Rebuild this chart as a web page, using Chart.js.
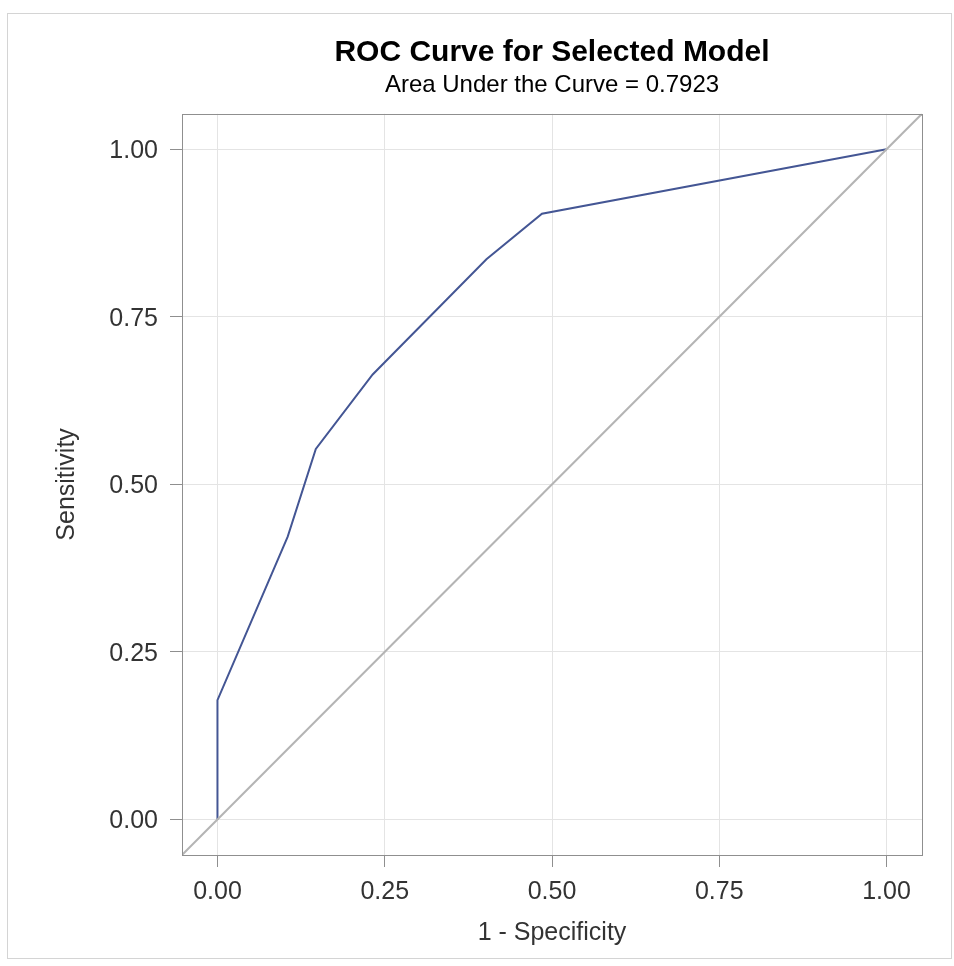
<!DOCTYPE html>
<html>
<head>
<meta charset="utf-8">
<script src="https://cdn.jsdelivr.net/npm/chart.js@4"></script>
<style>
  body { margin: 0; background: #fff; }
  canvas { display: block; }
</style>
</head>
<body>
<canvas id="roc-chart" width="954" height="966"></canvas>
<script>
document.addEventListener("DOMContentLoaded", function() {
    // ROC curve
    const falsePosRate = [0, 0, 0.105, 0.147, 0.232, 0.402, 0.485, 1];
    const truePosRate = [0, 0.178, 0.422, 0.553, 0.664, 0.836, 0.904, 1];
    const tickValues = [0, 0.25, 0.5, 0.75, 1];
    const axisMin = -0.053;
    const axisMax = 1.053;
    const aucValue = 0.7923;

    const font = "'Liberation Sans', Arial, sans-serif";

    const rocPoints = falsePosRate.map((x, i) => ({ x: x, y: truePosRate[i] }));
    const diagonal = [{ x: axisMin, y: axisMin }, { x: axisMax, y: axisMax }];

    // frame around the whole graph and round the plot area
    const frames = {
        id: 'frames',
        afterDraw(chart) {
            const c = chart.ctx;
            const a = chart.chartArea;
            c.save();
            c.strokeStyle = '#d4d4d4';
            c.lineWidth = 1;
            c.strokeRect(7.5, 13.5, 944, 945);
            c.strokeStyle = '#8f8f8f';
            c.strokeRect(Math.round(a.left) + 0.5, Math.round(a.top) + 0.5,
                Math.round(a.right - a.left), Math.round(a.bottom - a.top));
            c.restore();
        }
    };

    const setTicks = scale => {
        scale.ticks = tickValues.map(v => ({ value: v }));
    };

    const ctx = document.getElementById('roc-chart').getContext('2d');
    const rocChart = new Chart(ctx, {
        type: 'scatter',
        data: {
            datasets: [
                {
                    label: 'Diagonal',
                    data: diagonal,
                    showLine: true,
                    borderColor: '#b4b4b4',
                    borderWidth: 2,
                    pointRadius: 0
                },
                {
                    label: 'ROC',
                    data: rocPoints,
                    showLine: true,
                    borderColor: '#445694',
                    borderWidth: 2,
                    pointRadius: 0
                }
            ]
        },
        options: {
            responsive: false,
            animation: false,
            devicePixelRatio: 1,
            layout: { padding: { left: 0, right: 32, top: 0, bottom: 0 } },
            plugins: {
                legend: { display: false },
                tooltip: { enabled: false },
                title: {
                    display: true,
                    fullSize: false,
                    text: 'ROC Curve for Selected Model',
                    color: '#000',
                    font: { family: font, size: 30, weight: 'bold', lineHeight: 1.2 },
                    padding: { top: 35, bottom: 0 }
                },
                subtitle: {
                    display: true,
                    fullSize: false,
                    text: 'Area Under the Curve = ' + aucValue.toFixed(4),
                    color: '#000',
                    font: { family: font, size: 24, lineHeight: 1.2 },
                    padding: { top: 0, bottom: 14 }
                }
            },
            scales: {
                x: {
                    type: 'linear',
                    min: axisMin,
                    max: axisMax,
                    afterBuildTicks: setTicks,
                    afterFit: scale => { scale.height = 111; },
                    border: { display: false },
                    grid: { color: '#e4e4e4', tickColor: '#8f8f8f', tickLength: 12 },
                    ticks: {
                        color: '#333',
                        padding: 10,
                        font: { family: font, size: 25 },
                        callback: v => v.toFixed(2)
                    },
                    title: {
                        display: true,
                        text: '1 - Specificity',
                        color: '#333',
                        font: { family: font, size: 25, lineHeight: 1.2 },
                        padding: { top: 0, bottom: 18 }
                    }
                },
                y: {
                    type: 'linear',
                    min: axisMin,
                    max: axisMax,
                    afterBuildTicks: setTicks,
                    afterFit: scale => { scale.width = 182; },
                    border: { display: false },
                    grid: { color: '#e4e4e4', tickColor: '#8f8f8f', tickLength: 12 },
                    ticks: {
                        color: '#333',
                        padding: 12,
                        labelOffset: 2,
                        font: { family: font, size: 25 },
                        callback: v => v.toFixed(2)
                    },
                    title: {
                        display: true,
                        text: 'Sensitivity',
                        color: '#333',
                        font: { family: font, size: 25, lineHeight: 1.2 },
                        padding: { top: 52, bottom: 0 }
                    }
                }
            }
        },
        plugins: [frames]
    });
});
</script>
</body>
</html>
